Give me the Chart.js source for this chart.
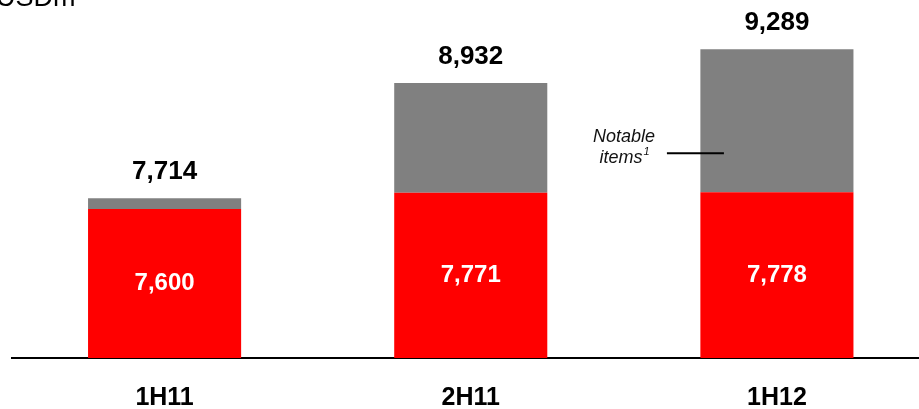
<!DOCTYPE html>
<html>
<head>
<meta charset="utf-8">
<script src="https://cdn.jsdelivr.net/npm/chart.js@4"></script>
<style>
  html, body { margin: 0; padding: 0; background: #fff; overflow: hidden; }
  #wrap { width: 919px; height: 409px; overflow: hidden; position: relative; }
  canvas { display: block; }
</style>
</head>
<body>
<div id="wrap"><canvas id="chart" width="930" height="438"></canvas></div>
<script>
const periods = ["1H11", "2H11", "1H12"];
const underlying = [7600, 7771, 7778];
const totals = [7714, 8932, 9289];
const unitLabel = "USDm";
const noteLines = ["Notable", "items"];

const notable = totals.map((t, i) => t - underlying[i]);
const font = "'Liberation Sans', Arial, sans-serif";

const labelPlugin = {
  id: "barLabels",
  afterDatasetsDraw(chart) {
    const ctx = chart.ctx;
    const area = chart.chartArea;
    const redMeta = chart.getDatasetMeta(0);
    const greyMeta = chart.getDatasetMeta(1);
    ctx.save();
    ctx.textAlign = "center";
    ctx.textBaseline = "middle";
    greyMeta.data.forEach((bar, i) => {
      ctx.fillStyle = "#000";
      ctx.font = "bold 26px " + font;
      ctx.fillText(totals[i].toLocaleString("en-US"), bar.x, bar.y - 26);
      const red = redMeta.data[i];
      ctx.fillStyle = "#fff";
      ctx.font = "bold 24px " + font;
      ctx.fillText(underlying[i].toLocaleString("en-US"), red.x, (red.y + area.bottom) / 2);
    });

    // unit label, cut at top-left like the source
    ctx.textAlign = "left";
    ctx.textBaseline = "alphabetic";
    ctx.fillStyle = "#000";
    ctx.font = "27px " + font;
    ctx.fillText(unitLabel, -4, 6);

    // notable items annotation
    const last = greyMeta.data[2];
    const lineY = chart.scales.y.getPixelForValue(8190);
    const cx = last.x - 153;
    ctx.textAlign = "center";
    ctx.textBaseline = "middle";
    ctx.fillStyle = "#111";
    ctx.font = "italic 18px " + font;
    ctx.fillText(noteLines[0], cx, lineY - 16);
    ctx.fillText(noteLines[1], cx - 3, lineY + 5);
    const w = ctx.measureText(noteLines[1]).width;
    ctx.font = "italic 11px " + font;
    ctx.textAlign = "left";
    ctx.fillText("1", cx - 3 + w / 2 + 1, lineY - 1);
    ctx.strokeStyle = "#000";
    ctx.lineWidth = 2;
    ctx.beginPath();
    ctx.moveTo(last.x - 110, lineY);
    ctx.lineTo(last.x - 53, lineY);
    ctx.stroke();
    ctx.restore();
  }
};

new Chart(document.getElementById("chart"), {
  type: "bar",
  data: {
    labels: periods,
    datasets: [
      {
        label: "Underlying",
        data: underlying,
        backgroundColor: "#FF0000",
        borderWidth: 0
      },
      {
        label: "Notable items",
        data: notable,
        backgroundColor: "#808080",
        borderWidth: 0
      }
    ]
  },
  options: {
    responsive: false,
    animation: false,
    events: [],
    layout: { padding: { left: 11.5, right: 0, top: 0, bottom: 0 } },
    datasets: {
      bar: { categoryPercentage: 1, barPercentage: 0.5 }
    },
    plugins: {
      legend: { display: false },
      tooltip: { enabled: false }
    },
    scales: {
      x: {
        stacked: true,
        grid: { display: false, drawTicks: false },
        border: { display: true, color: "#000", width: 2 },
        ticks: {
          color: "#000",
          padding: 25,
          font: { family: font, size: 25, weight: "bold", lineHeight: 1.2 }
        }
      },
      y: {
        stacked: true,
        display: false,
        min: 6027,
        max: 9808
      }
    }
  },
  plugins: [labelPlugin]
});
</script>
</body>
</html>
